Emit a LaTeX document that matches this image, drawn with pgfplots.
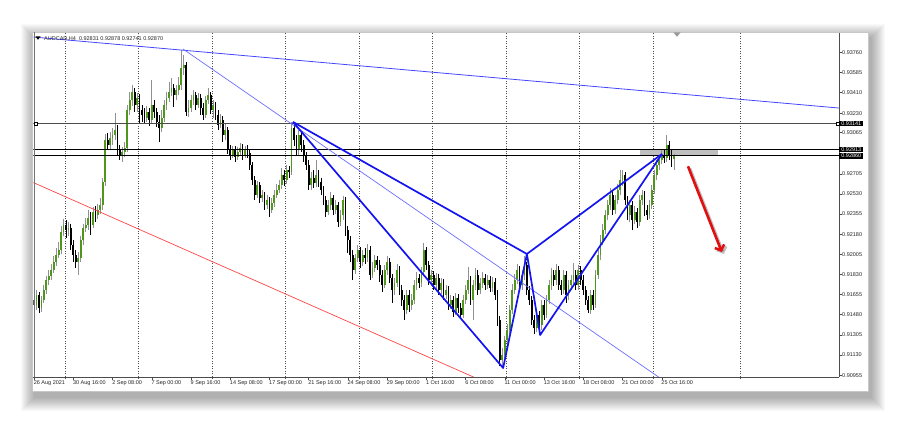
\documentclass[border=0pt]{standalone}
\usepackage{pgfplots}
\pgfplotsset{compat=1.18}
\usepackage{pgfplotstable}
\usepackage{fontspec}
\setmainfont{Liberation Sans}
\usetikzlibrary{arrows.meta}

\definecolor{bull}{RGB}{78,150,28}
\definecolor{wickup}{RGB}{145,145,145}
\definecolor{pat}{RGB}{20,20,240}
\definecolor{tl}{RGB}{70,70,255}
\definecolor{tl2}{RGB}{110,110,255}
\definecolor{rl}{RGB}{255,70,70}
\definecolor{arr}{RGB}{225,15,15}
\newcommand\tickfont{\fontsize{5.5}{6}\selectfont}

\pgfplotstableread{
i o h l c
0 0.91608 0.91712 0.91495 0.91565
1 0.91565 0.91695 0.91521 0.91652
2 0.91652 0.91677 0.91495 0.91539
3 0.91539 0.91643 0.91504 0.91608
4 0.91608 0.91738 0.91582 0.91695
5 0.91695 0.91817 0.91660 0.91782
6 0.91782 0.91869 0.91738 0.91817
7 0.91817 0.91921 0.91782 0.91869
8 0.91869 0.91990 0.91843 0.91938
9 0.91938 0.92060 0.91903 0.91999
10 0.91999 0.92112 0.91973 0.92043
11 0.92043 0.92251 0.92008 0.92199
12 0.92199 0.92312 0.92164 0.92260
13 0.92260 0.92303 0.92147 0.92216
14 0.92216 0.92286 0.92164 0.92234
15 0.92234 0.92269 0.92043 0.92086
16 0.92086 0.92129 0.91938 0.91999
17 0.91999 0.92043 0.91886 0.91938
18 0.91938 0.92025 0.91825 0.91973
19 0.91973 0.92164 0.91938 0.92129
20 0.92129 0.92269 0.92086 0.92234
21 0.92234 0.92321 0.92199 0.92260
22 0.92260 0.92390 0.92216 0.92321
23 0.92321 0.92373 0.92173 0.92260
24 0.92260 0.92416 0.92234 0.92373
25 0.92373 0.92425 0.92286 0.92347
26 0.92347 0.92442 0.92312 0.92390
27 0.92390 0.92494 0.92355 0.92434
28 0.92434 0.92668 0.92390 0.92633
29 0.92633 0.93051 0.92599 0.92998
30 0.92998 0.93059 0.92912 0.92955
31 0.92955 0.93068 0.92912 0.93016
32 0.93016 0.93103 0.92955 0.93042
33 0.93042 0.93233 0.92998 0.93085
34 0.93085 0.93129 0.92868 0.92912
35 0.92912 0.92955 0.92825 0.92868
36 0.92868 0.92938 0.92807 0.92894
37 0.92894 0.92981 0.92851 0.92929
38 0.92929 0.93302 0.92894 0.93259
39 0.93259 0.93416 0.93216 0.93346
40 0.93346 0.93476 0.93294 0.93416
41 0.93416 0.93450 0.93242 0.93302
42 0.93302 0.93407 0.93242 0.93363
43 0.93363 0.93398 0.93146 0.93259
44 0.93259 0.93302 0.93155 0.93216
45 0.93216 0.93276 0.93137 0.93190
46 0.93190 0.93294 0.93155 0.93242
47 0.93242 0.93276 0.93120 0.93172
48 0.93172 0.93520 0.93137 0.93302
49 0.93302 0.93346 0.93190 0.93242
50 0.93242 0.93276 0.93111 0.93155
51 0.93155 0.93216 0.92981 0.93103
52 0.93103 0.93259 0.93068 0.93190
53 0.93190 0.93346 0.93155 0.93302
54 0.93302 0.93416 0.93259 0.93363
55 0.93363 0.93502 0.93329 0.93416
56 0.93416 0.93537 0.93381 0.93450
57 0.93450 0.93485 0.93285 0.93389
58 0.93389 0.93476 0.93346 0.93433
59 0.93433 0.93546 0.93389 0.93476
60 0.93476 0.93780 0.93433 0.93624
61 0.93624 0.93737 0.93563 0.93650
62 0.93650 0.93676 0.93207 0.93242
63 0.93242 0.93346 0.93198 0.93276
64 0.93276 0.93389 0.93242 0.93346
65 0.93346 0.93433 0.93302 0.93389
66 0.93389 0.93416 0.93259 0.93302
67 0.93302 0.93407 0.93276 0.93363
68 0.93363 0.93398 0.93216 0.93276
69 0.93276 0.93320 0.93172 0.93216
70 0.93216 0.93381 0.93190 0.93346
71 0.93346 0.93450 0.93311 0.93389
72 0.93389 0.93416 0.93224 0.93259
73 0.93259 0.93346 0.93190 0.93302
74 0.93302 0.93329 0.93172 0.93216
75 0.93216 0.93259 0.93085 0.93129
76 0.93129 0.93224 0.93103 0.93172
77 0.93172 0.93207 0.92981 0.93042
78 0.93042 0.93137 0.92998 0.93085
79 0.93085 0.93111 0.92877 0.92912
80 0.92912 0.92955 0.92825 0.92868
81 0.92868 0.92946 0.92842 0.92912
82 0.92912 0.92946 0.92807 0.92851
83 0.92851 0.92938 0.92825 0.92894
84 0.92894 0.92972 0.92859 0.92929
85 0.92929 0.92964 0.92825 0.92868
86 0.92868 0.92946 0.92842 0.92912
87 0.92912 0.92955 0.92842 0.92885
88 0.92885 0.92912 0.92738 0.92781
89 0.92781 0.92807 0.92607 0.92651
90 0.92651 0.92686 0.92477 0.92520
91 0.92520 0.92642 0.92494 0.92607
92 0.92607 0.92633 0.92451 0.92494
93 0.92494 0.92564 0.92460 0.92520
94 0.92520 0.92547 0.92390 0.92434
95 0.92434 0.92520 0.92399 0.92477
96 0.92477 0.92503 0.92329 0.92390
97 0.92390 0.92494 0.92364 0.92451
98 0.92451 0.92564 0.92416 0.92520
99 0.92520 0.92616 0.92494 0.92564
100 0.92564 0.92651 0.92538 0.92607
101 0.92607 0.92755 0.92573 0.92694
102 0.92694 0.92738 0.92599 0.92651
103 0.92651 0.92781 0.92616 0.92738
104 0.92738 0.92773 0.92668 0.92720
105 0.92720 0.93155 0.92694 0.93103
106 0.93103 0.93129 0.92946 0.92998
107 0.92998 0.93042 0.92859 0.92912
108 0.92912 0.93085 0.92868 0.93042
109 0.93042 0.93068 0.92894 0.92955
110 0.92955 0.92998 0.92807 0.92868
111 0.92868 0.92894 0.92738 0.92781
112 0.92781 0.92825 0.92564 0.92607
113 0.92607 0.92720 0.92564 0.92668
114 0.92668 0.92738 0.92581 0.92625
115 0.92625 0.92825 0.92590 0.92694
116 0.92694 0.92738 0.92590 0.92633
117 0.92633 0.92668 0.92520 0.92564
118 0.92564 0.92599 0.92434 0.92477
119 0.92477 0.92512 0.92329 0.92373
120 0.92373 0.92477 0.92347 0.92434
121 0.92434 0.92547 0.92390 0.92494
122 0.92494 0.92520 0.92347 0.92390
123 0.92390 0.92477 0.92355 0.92434
124 0.92434 0.92460 0.92242 0.92286
125 0.92286 0.92390 0.92251 0.92347
126 0.92347 0.92512 0.92303 0.92477
127 0.92477 0.92503 0.92164 0.92216
128 0.92216 0.92251 0.92016 0.92129
129 0.92129 0.92164 0.91938 0.91999
130 0.91999 0.92043 0.91782 0.91869
131 0.91869 0.92008 0.91834 0.91973
132 0.91973 0.92086 0.91938 0.92043
133 0.92043 0.92069 0.91886 0.91938
134 0.91938 0.92043 0.91903 0.91999
135 0.91999 0.92060 0.91921 0.91973
136 0.91973 0.92095 0.91938 0.92043
137 0.92043 0.92077 0.91782 0.91825
138 0.91825 0.91938 0.91799 0.91886
139 0.91886 0.91999 0.91851 0.91956
140 0.91956 0.91990 0.91869 0.91912
141 0.91912 0.91956 0.91764 0.91825
142 0.91825 0.91869 0.91677 0.91738
143 0.91738 0.91912 0.91712 0.91869
144 0.91869 0.91990 0.91825 0.91938
145 0.91938 0.91973 0.91756 0.91799
146 0.91799 0.91834 0.91582 0.91695
147 0.91695 0.91799 0.91652 0.91756
148 0.91756 0.91921 0.91721 0.91869
149 0.91869 0.91903 0.91652 0.91695
150 0.91695 0.91738 0.91556 0.91608
151 0.91608 0.91652 0.91434 0.91521
152 0.91521 0.91695 0.91486 0.91652
153 0.91652 0.91695 0.91504 0.91565
154 0.91565 0.91660 0.91521 0.91608
155 0.91608 0.91782 0.91573 0.91738
156 0.91738 0.91851 0.91695 0.91799
157 0.91799 0.91834 0.91712 0.91756
158 0.91756 0.91895 0.91721 0.91851
159 0.91851 0.92103 0.91817 0.92043
160 0.92043 0.92069 0.91869 0.91912
161 0.91912 0.91947 0.91738 0.91782
162 0.91782 0.91869 0.91730 0.91825
163 0.91825 0.91860 0.91695 0.91738
164 0.91738 0.91843 0.91704 0.91799
165 0.91799 0.91834 0.91652 0.91695
166 0.91695 0.91799 0.91660 0.91756
167 0.91756 0.91790 0.91608 0.91652
168 0.91652 0.91738 0.91617 0.91695
169 0.91695 0.91730 0.91521 0.91565
170 0.91565 0.91652 0.91530 0.91608
171 0.91608 0.91643 0.91460 0.91504
172 0.91504 0.91669 0.91478 0.91625
173 0.91625 0.91660 0.91495 0.91539
174 0.91539 0.91582 0.91452 0.91478
175 0.91478 0.91652 0.91452 0.91608
176 0.91608 0.91738 0.91573 0.91695
177 0.91695 0.91895 0.91660 0.91782
178 0.91782 0.91817 0.91565 0.91608
179 0.91608 0.91782 0.91434 0.91738
180 0.91738 0.91886 0.91695 0.91825
181 0.91825 0.91869 0.91652 0.91695
182 0.91695 0.91799 0.91660 0.91756
183 0.91756 0.91851 0.91712 0.91799
184 0.91799 0.91834 0.91695 0.91738
185 0.91738 0.91825 0.91704 0.91782
186 0.91782 0.91817 0.91677 0.91712
187 0.91712 0.91808 0.91677 0.91764
188 0.91764 0.91799 0.91608 0.91652
189 0.91652 0.91695 0.91382 0.91434
190 0.91434 0.91469 0.91035 0.91087
191 0.91087 0.91191 0.91017 0.91130
192 0.91130 0.91295 0.91087 0.91261
193 0.91261 0.91400 0.91209 0.91347
194 0.91347 0.91565 0.91313 0.91521
195 0.91521 0.91747 0.91486 0.91695
196 0.91695 0.91834 0.91660 0.91782
197 0.91782 0.91921 0.91747 0.91869
198 0.91869 0.91903 0.91695 0.91738
199 0.91738 0.91869 0.91695 0.91825
200 0.91825 0.91990 0.91782 0.91912
201 0.91912 0.91938 0.91652 0.91695
202 0.91695 0.91730 0.91565 0.91608
203 0.91608 0.91643 0.91391 0.91434
204 0.91434 0.91478 0.91313 0.91365
205 0.91365 0.91521 0.91330 0.91478
206 0.91478 0.91513 0.91304 0.91391
207 0.91391 0.91608 0.91347 0.91565
208 0.91565 0.91608 0.91434 0.91478
209 0.91478 0.91652 0.91452 0.91608
210 0.91608 0.91782 0.91573 0.91738
211 0.91738 0.91886 0.91695 0.91825
212 0.91825 0.91869 0.91730 0.91782
213 0.91782 0.91921 0.91738 0.91869
214 0.91869 0.91903 0.91695 0.91738
215 0.91738 0.91782 0.91652 0.91695
216 0.91695 0.91869 0.91660 0.91825
217 0.91825 0.91860 0.91582 0.91652
218 0.91652 0.91782 0.91608 0.91738
219 0.91738 0.91825 0.91695 0.91782
220 0.91782 0.91930 0.91738 0.91825
221 0.91825 0.91869 0.91695 0.91738
222 0.91738 0.91912 0.91695 0.91869
223 0.91869 0.91903 0.91738 0.91782
224 0.91782 0.91825 0.91652 0.91695
225 0.91695 0.91730 0.91565 0.91608
226 0.91608 0.91643 0.91495 0.91521
227 0.91521 0.91695 0.91486 0.91652
228 0.91652 0.91695 0.91521 0.91565
229 0.91565 0.91869 0.91539 0.91825
230 0.91825 0.92043 0.91790 0.91999
231 0.91999 0.92173 0.91956 0.92129
232 0.92129 0.92269 0.92086 0.92216
233 0.92216 0.92390 0.92182 0.92347
234 0.92347 0.92477 0.92303 0.92434
235 0.92434 0.92581 0.92390 0.92520
236 0.92520 0.92564 0.92347 0.92390
237 0.92390 0.92520 0.92355 0.92477
238 0.92477 0.92616 0.92442 0.92564
239 0.92564 0.92738 0.92520 0.92651
240 0.92651 0.92738 0.92599 0.92694
241 0.92694 0.92720 0.92434 0.92477
242 0.92477 0.92512 0.92303 0.92347
243 0.92347 0.92477 0.92286 0.92434
244 0.92434 0.92468 0.92216 0.92303
245 0.92303 0.92425 0.92269 0.92373
246 0.92373 0.92408 0.92234 0.92286
247 0.92286 0.92520 0.92251 0.92477
248 0.92477 0.92564 0.92434 0.92520
249 0.92520 0.92555 0.92338 0.92390
250 0.92390 0.92434 0.92303 0.92347
251 0.92347 0.92477 0.92312 0.92434
252 0.92434 0.92607 0.92399 0.92564
253 0.92564 0.92738 0.92529 0.92694
254 0.92694 0.92825 0.92651 0.92781
255 0.92781 0.92868 0.92738 0.92825
256 0.92825 0.92912 0.92790 0.92868
257 0.92868 0.92912 0.92799 0.92842
258 0.92842 0.93042 0.92807 0.92955
259 0.92955 0.92990 0.92825 0.92868
260 0.92868 0.92912 0.92764 0.92825
261 0.92831 0.92878 0.92741 0.92870
}\candles

\pgfplotsset{
  candle/.style={draw=none, mark=none, forget plot, restrict x to domain=-5:400,
    error bars/.cd, y dir=both, y explicit, error mark=none,
    error bar style={solid, line cap=butt, #1}},
}

\begin{document}
\begin{tikzpicture}
\useasboundingbox (0,0) rectangle (900pt,423pt);
\fill[white] (0,0) rectangle (900pt,423pt);
% window shadow and window (pixel coordinates, y downwards)
\begin{scope}[x=1pt,y=-1pt,yshift=423pt]
  \foreach \k in {1,...,14} {
    \fill[black,opacity=0.022] (35-\k,38-\k) rectangle (871+\k,397+\k);
  }
  \fill[white] (32,32) rectangle (868,391);
  \draw[black!22,line width=0.8pt] (32,32) rectangle (868,391);
\end{scope}

\begin{axis}[
  at={(33.4pt,46pt)}, anchor=south west,
  width=805.6pt, height=344pt, scale only axis,
  xmin=-0.3, xmax=328.3, ymin=0.90939, ymax=0.93928,
  clip mode=individual,
  axis x line*=bottom, axis y line*=right,
  axis line style={-, draw=black!70, line width=0.8pt},
  tick align=outside, major tick length=3pt,
  tick style={draw=black!70, line width=0.5pt},
  xtick={0,16,...,256},
  xticklabels={26 Aug 2021,30 Aug 16:00,2 Sep 08:00,7 Sep 00:00,9 Sep 16:00,14 Sep 08:00,17 Sep 00:00,21 Sep 16:00,24 Sep 08:00,29 Sep 00:00,1 Oct 16:00,6 Oct 08:00,11 Oct 00:00,13 Oct 16:00,18 Oct 08:00,21 Oct 00:00,25 Oct 16:00},
  ytick={0.90955,0.91130,0.91305,0.91480,0.91655,0.91830,0.92005,0.92180,0.92355,0.92530,0.92705,0.93065,0.93230,0.93410,0.93585,0.93760},
  yticklabels={0.90955,0.91130,0.91305,0.91480,0.91655,0.91830,0.92005,0.92180,0.92355,0.92530,0.92705,0.93065,0.93230,0.93410,0.93585,0.93760},
  x tick label style={anchor=north west, xshift=-1pt, yshift=0.5pt, inner sep=0.5pt, font=\tickfont, text=black!85},
  y tick label style={anchor=west, xshift=-0.5pt, inner sep=0.5pt, font=\tickfont, text=black!85},
  extra x ticks={12.5,42.5,72.5,102.5,132.5,162.5,192.5,222.5,252.5,288},
  extra x tick labels={},
  extra x tick style={grid=major, major tick length=2pt, major grid style={draw=black!70, line width=0.5pt, dash pattern=on 1pt off 1.5pt}},
]
% grey zone between the two levels
\fill[black!25] (axis cs:247.1,0.92860) rectangle (axis cs:278.9,0.92913);

% wicks
\addplot[candle={line width=0.9pt, draw=wickup}]
  table[x expr={\thisrow{c}>=\thisrow{o} ? \thisrow{i} : -100},
        y expr={(\thisrow{h}+\thisrow{l})/2},
        y error expr={(\thisrow{h}-\thisrow{l})/2}] {\candles};
\addplot[candle={line width=0.9pt, draw=black}]
  table[x expr={\thisrow{c}<\thisrow{o} ? \thisrow{i} : -100},
        y expr={(\thisrow{h}+\thisrow{l})/2},
        y error expr={(\thisrow{h}-\thisrow{l})/2}] {\candles};
% bodies
\addplot[candle={line width=1.8pt, draw=bull}]
  table[x expr={\thisrow{c}>=\thisrow{o} ? \thisrow{i} : -100},
        y expr={(\thisrow{o}+\thisrow{c})/2},
        y error expr={abs(\thisrow{c}-\thisrow{o})/2}] {\candles};
\addplot[candle={line width=1.8pt, draw=black}]
  table[x expr={\thisrow{c}<\thisrow{o} ? \thisrow{i} : -100},
        y expr={(\thisrow{o}+\thisrow{c})/2},
        y error expr={abs(\thisrow{c}-\thisrow{o})/2}] {\candles};

% horizontal levels
\addplot[black!70, line width=1.1pt, forget plot] coordinates {(-0.3,0.93141) (328.3,0.93141)};
\addplot[black, line width=1.1pt, forget plot] coordinates {(-0.3,0.92913) (328.3,0.92913)};
\addplot[black, line width=1.1pt, forget plot] coordinates {(-0.3,0.92860) (328.3,0.92860)};

% thin trend lines
\addplot[tl, line width=0.8pt, forget plot] coordinates {(-0.3,0.93893) (328.3,0.93276)};
\addplot[tl2, line width=0.7pt, forget plot] coordinates {(60.7,0.93789) (255.3,0.90930)};
\addplot[rl, line width=0.7pt, forget plot] coordinates {(-0.3,0.92628) (181.1,0.90921)};

% harmonic pattern
\addplot[pat, line width=1.7pt, line join=round, forget plot] coordinates {(105.6,0.93155) (191.3,0.91017) (201.0,0.92008) (206.4,0.91304) (256.1,0.92877)};
\addplot[pat, line width=1.7pt, line join=round, forget plot] coordinates {(105.6,0.93155) (201.0,0.92008) (256.1,0.92877)};

% arrow with shadow
\draw[black, opacity=0.25, line width=2.6pt, -{Straight Barb[length=4.5pt,width=10pt]}]
  ([xshift=2pt,yshift=-2pt]axis cs:266.7,0.92770) -- ([xshift=2pt,yshift=-2pt]axis cs:280.5,0.92025);
\draw[arr, line width=2.6pt, -{Straight Barb[length=4.5pt,width=10pt]}]
  (axis cs:266.7,0.92770) -- (axis cs:280.5,0.92025);

% price boxes
\node[anchor=west, fill=black, text=white, font=\tickfont, inner xsep=2.2pt, inner ysep=0.6pt, text height=4pt, text depth=0pt] at (axis cs:328.3,0.93141) {0.93141};
\node[anchor=west, fill=black, text=white, font=\tickfont, inner xsep=2.2pt, inner ysep=0.6pt, text height=4pt, text depth=0pt] at (axis cs:328.3,0.92913) {0.92913};
\node[anchor=west, fill=black, text=white, font=\tickfont, inner xsep=2.2pt, inner ysep=0.6pt, text height=4pt, text depth=0pt] at (axis cs:328.3,0.92860) {0.92860};
\end{axis}

\begin{scope}[x=1pt,y=-1pt,yshift=423pt]
  \draw[black!55,line width=0.8pt] (34.2,32) -- (34.2,377);
  \draw[black,fill=white,line width=0.5pt] (34.5,121.8) rectangle (37.5,124.8);
  \draw[black,fill=white,line width=0.5pt] (835.8,121.8) rectangle (838.8,124.8);
  \fill[black] (35.5,36.5) -- (40.5,36.5) -- (38,39.8) -- cycle;
  \node[anchor=west, font=\tickfont, text=black!85, inner sep=0] at (44,38.6) {AUDCAD,H4\ \ 0.92831 0.92878 0.92741 0.92870};
  \fill[black!40] (673.5,32.5) -- (680.5,32.5) -- (677,36.8) -- cycle;
\end{scope}
\end{tikzpicture}
\end{document}
